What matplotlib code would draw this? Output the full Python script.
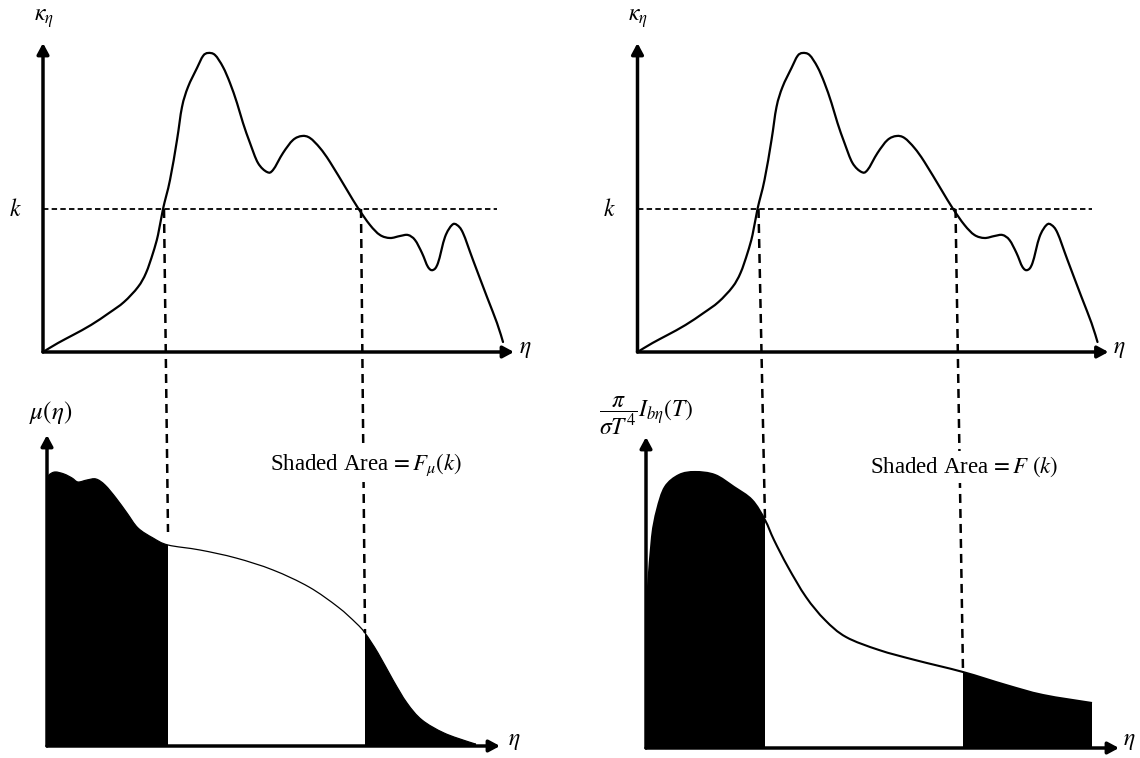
import numpy as np
import matplotlib
matplotlib.use("Agg")
import matplotlib.pyplot as plt
from matplotlib.path import Path
from matplotlib.patches import PathPatch
from matplotlib.lines import Line2D

plt.rcParams['font.family'] = ['Liberation Serif', 'DejaVu Serif']
plt.rcParams['mathtext.fontset'] = 'stix'

# spectral absorption coefficient kappa_eta (same curve in both upper panels)
eta_k = np.array([0, 15, 30, 48, 66, 81, 95, 103, 110, 115, 120, 127, 134, 139, 145,
                  154, 160, 165, 172, 180, 187, 194, 200, 207, 215, 224, 230, 240,
                  250, 259, 267, 277, 287, 304, 315, 327, 337, 347, 357, 365, 372,
                  379, 385, 390, 395, 402, 409, 414, 420, 430, 444, 454, 460])
kappa = np.array([0, 9, 17, 27, 39, 50, 65, 79, 99, 117, 143, 172, 212, 245, 265,
                  284, 296, 299, 297, 285, 269, 249, 229, 209, 189, 180, 182, 199,
                  212, 216, 214, 204, 190, 162, 144, 127, 117, 114, 116, 117, 112,
                  99, 85, 82, 89, 115, 127, 127, 119, 92, 55, 29, 10])
k_level = 143
k_cross = [121, 318]

# weight function mu(eta), lower left
eta_mu = np.array([0, 2, 8, 17, 25, 31, 40, 49, 58, 69, 80, 91, 106, 121, 153, 189,
                   226, 262, 291, 309, 318, 331, 346, 360, 375, 397, 422, 429])
mu = np.array([266, 271, 274, 272, 268, 264, 266, 267, 261, 248, 233, 218, 208, 201,
               196, 188, 176, 159, 139, 123, 113, 93, 66, 43, 26, 13, 4, 2])
mu_cut = [121, 318]

# blackbody pi/(sigma T^4) I_b,eta(T), lower right
eta_b = np.array([0, 2, 6, 11, 19, 33, 49, 69, 88, 106, 119, 128, 142, 160, 179,
                  200, 233, 269, 317, 360, 397, 446])
planck = np.array([138, 161, 211, 238, 261, 273, 276, 273, 261, 248, 228, 208, 181,
                   151, 128, 111, 98, 88, 76, 63, 53, 45])
planck_cut = [119, 317]

W, H = 1140, 758
fig = plt.figure(figsize=(W / 100, H / 100), dpi=100)


def panel(x0, y0, x1, y1):
    # x0,y0 = origin in pixels, x1 = tip of eta arrow, y1 = tip of vertical arrow
    ax = fig.add_axes([x0 / W, 1 - y0 / H, (x1 - x0) / W, (y0 - y1) / H])
    ax.set_xlim(0, x1 - x0)
    ax.set_ylim(0, y0 - y1)
    ax.axis('off')
    arr = dict(arrowstyle='-|>,head_length=0.65,head_width=0.35', lw=2.5,
               color='k', shrinkA=0, shrinkB=0, mutation_scale=10)
    ax.annotate('', xy=(1, 0), xytext=(0, 0), xycoords='axes fraction',
                textcoords='axes fraction', arrowprops=arr, annotation_clip=False)
    ax.annotate('', xy=(0, 1), xytext=(0, 0), xycoords='axes fraction',
                textcoords='axes fraction', arrowprops=arr, annotation_clip=False)
    return ax


def bez(x, y, i0, i1):
    # smooth (catmull-rom) bezier segments through the read points i0..i1
    p = np.column_stack([x, y]).astype(float)
    n = len(p)
    verts, codes = [], []
    for i in range(i0, i1):
        a, b, c, d = p[max(i - 1, 0)], p[i], p[i + 1], p[min(i + 2, n - 1)]
        verts += [b + (c - a) / 6, c - (d - b) / 6, c]
        codes += [Path.CURVE4] * 3
    return verts, codes


def curve(ax, x, y, **kw):
    v, c = bez(x, y, 0, len(x) - 1)
    path = Path([(x[0], y[0])] + v, [Path.MOVETO] + c)
    ax.add_patch(PathPatch(path, fill=False, clip_on=False, **kw))


def shade(ax, x, y, lo, hi):
    i0 = int(np.where(x == lo)[0][0]) if lo is not None else 0
    i1 = int(np.where(x == hi)[0][0]) if hi is not None else len(x) - 1
    v, c = bez(x, y, i0, i1)
    verts = [(x[i0], 0), (x[i0], y[i0])] + v + [(x[i1], 0), (x[i0], 0)]
    codes = [Path.MOVETO, Path.LINETO] + c + [Path.LINETO, Path.CLOSEPOLY]
    ax.add_patch(PathPatch(Path(verts, codes), facecolor='k', edgecolor='none'))


ax_tl = panel(43, 352, 514, 43)
ax_tr = panel(637.5, 352, 1108.5, 43)
ax_bl = panel(47, 746, 500, 435)
ax_br = panel(646, 748, 1119, 437)

for ax in (ax_tl, ax_tr):
    curve(ax, eta_k, kappa, edgecolor='k', lw=1.6, capstyle='round')
    ax.plot([0, 454], [k_level, k_level], color='k', lw=1.3, ls=(0, (3.0, 1.8)),
            clip_on=False)

# lower left: mu(eta)
shade(ax_bl, eta_mu, mu, None, mu_cut[0])
shade(ax_bl, eta_mu, mu, mu_cut[1], None)
curve(ax_bl, eta_mu, mu, edgecolor='k', lw=0.9)

# lower right: blackbody
shade(ax_br, eta_b, planck, None, planck_cut[0])
shade(ax_br, eta_b, planck, planck_cut[1], None)
curve(ax_br, eta_b, planck, edgecolor='k', lw=1.5)

# projection lines from kappa = k down to the lower panels
links = [
    (ax_tl, k_cross[0], ax_bl, mu_cut[0], 214),
    (ax_tl, k_cross[1], ax_bl, mu_cut[1], np.interp(mu_cut[1], eta_mu, mu)),
    (ax_tr, k_cross[0], ax_br, planck_cut[0], np.interp(planck_cut[0], eta_b, planck)),
    (ax_tr, k_cross[1], ax_br, planck_cut[1], np.interp(planck_cut[1], eta_b, planck)),
]
to_fig = fig.transFigure.inverted()
for axa, xa, axb, xb, yb in links:
    pa = to_fig.transform(axa.transData.transform((xa, k_level)))
    pb = to_fig.transform(axb.transData.transform((xb, yb)))
    fig.add_artist(Line2D([pa[0], pb[0]], [pa[1], pb[1]], transform=fig.transFigure,
                          color='k', lw=1.8, ls=(0, (3.6, 2.4)), zorder=2))


def ftext(x, y, s, size, **kw):
    return fig.text(x / W, 1 - y / H, s, fontsize=size, ha='center', va='center',
                    zorder=5, **kw)


for dx in (0, 594):
    ftext(44 + dx, 19, r'$\kappa_{\eta}$', 17)
    ftext(15 + dx, 210, r'$k$', 17)
    ftext(525 + dx, 350, r'$\eta$', 17)
ftext(514, 741, r'$\eta$', 17)
ftext(1129, 742, r'$\eta$', 17)
ftext(51, 412, r'$\mu\left(\eta\right)$', 18)
ftext(646, 416, r'$\dfrac{\pi}{\sigma T^{4}}I_{b\eta}\left(T\right)$', 17)

box = dict(facecolor='white', edgecolor='none', pad=3)
ftext(366, 465, r'Shaded Area$\,=F_{\mu}\left(k\right)$', 16.5, bbox=box)
ftext(964, 467, r'Shaded Area$\,=F\ \left(k\right)$', 16.5, bbox=box)

fig.savefig('out.png', dpi=100, facecolor='white')
